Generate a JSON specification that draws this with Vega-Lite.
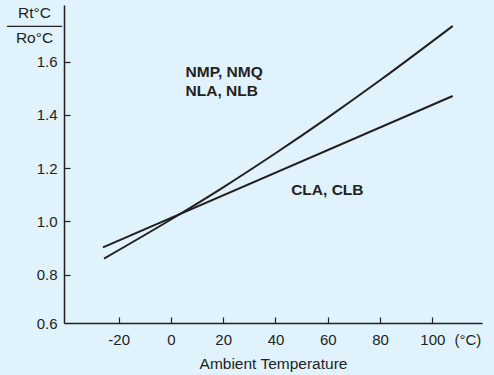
{
  "$schema": "https://vega.github.io/schema/vega-lite/v6.json",
  "width": 418,
  "height": 318,
  "autosize": {"type": "none"},
  "padding": {"left": 64, "top": 5, "right": 12, "bottom": 52},
  "background": "#e0f2fb",
  "config": {
    "view": {"stroke": null},
    "font": "Liberation Sans",
    "axis": {"grid": false, "domainColor": "#231f20", "domainWidth": 1.5, "tickColor": "#231f20", "tickWidth": 1.2, "labelColor": "#231f20", "titleColor": "#231f20", "labelFont": "Liberation Sans", "titleFont": "Liberation Sans", "labelFontSize": 15, "titleFontSize": 15.5, "titleFontWeight": "normal"}
  },
  "datasets": {
    "curves": [
      {"series": "NMP", "temp": -25.6, "ratio": 0.860},
      {"series": "NMP", "temp": 0, "ratio": 1.007},
      {"series": "NMP", "temp": 20, "ratio": 1.128},
      {"series": "NMP", "temp": 40, "ratio": 1.256},
      {"series": "NMP", "temp": 60, "ratio": 1.390},
      {"series": "NMP", "temp": 80, "ratio": 1.530},
      {"series": "NMP", "temp": 107.8, "ratio": 1.734},
      {"series": "CLA", "temp": -26, "ratio": 0.902},
      {"series": "CLA", "temp": 107.8, "ratio": 1.471}
    ],
    "labels": [
      {"text": "NMP, NMQ", "temp": 5.6, "ratio": 1.561},
      {"text": "NLA, NLB", "temp": 5.6, "ratio": 1.488},
      {"text": "CLA, CLB", "temp": 46.0, "ratio": 1.119}
    ]
  },
  "layer": [
    {
      "data": {"name": "curves"},
      "mark": {"type": "line", "color": "#231f20", "strokeWidth": 2, "interpolate": "monotone"},
      "encoding": {
        "x": {
          "field": "temp", "type": "quantitative",
          "scale": {"domain": [-40.9, 119], "nice": false, "zero": false},
          "axis": {
            "values": [-20, 0, 20, 40, 60, 80, 100, 113.4],
            "labelExpr": "datum.value > 110 ? '(°C)' : replace(datum.label, '−', '-')",
            "tickSize": -6,
            "tickOpacity": {"condition": {"test": "datum.value > 110", "value": 0}, "value": 1},
            "labelPadding": 15,
            "title": "Ambient Temperature",
            "titleBaseline": "alphabetic",
            "titleY": 45
          }
        },
        "y": {
          "field": "ratio", "type": "quantitative",
          "scale": {"domain": [0.618, 1.813], "nice": false, "zero": false},
          "axis": {
            "values": [0.618, 0.8, 1.0, 1.2, 1.4, 1.6],
            "labelExpr": "datum.value < 0.7 ? '0.6' : format(datum.value, '.1f')",
            "tickSize": -6,
            "tickOpacity": {"condition": {"test": "datum.value < 0.7", "value": 0}, "value": 1},
            "labelPadding": 13,
            "title": ["Rt°C", "─────", "Ro°C"],
            "titleAngle": 0,
            "titleAlign": "center",
            "titleBaseline": "middle",
            "titleX": -30,
            "titleY": 7.5,
            "titleLineHeight": 12.5
          }
        },
        "detail": {"field": "series"}
      }
    },
    {
      "data": {"name": "labels"},
      "mark": {"type": "text", "align": "left", "baseline": "middle", "fontWeight": "bold", "fontSize": 15.5, "color": "#231f20", "font": "Liberation Sans"},
      "encoding": {
        "x": {"field": "temp", "type": "quantitative"},
        "y": {"field": "ratio", "type": "quantitative"},
        "text": {"field": "text"}
      }
    }
  ]
}
